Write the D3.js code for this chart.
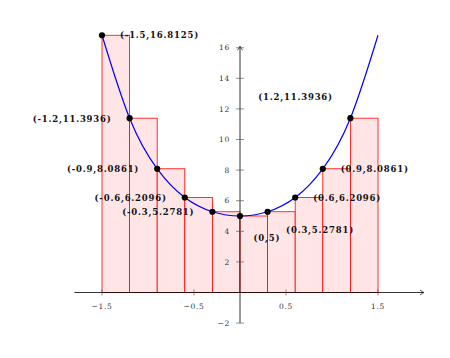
<!DOCTYPE html>
<html><head><meta charset="utf-8">
<script src="https://cdn.jsdelivr.net/npm/d3@7"></script>
<style>body{margin:0;background:#fff}</style>
</head><body>
<svg id="c" width="450" height="358"></svg>
<script>
// sample points (left endpoints of the Riemann rectangles)
const xs = [-1.5, -1.2, -0.9, -0.6, -0.3, 0, 0.3, 0.6, 0.9, 1.2];
const fx = [16.8125, 11.3936, 8.0861, 6.2096, 5.2781, 5, 5.2781, 6.2096, 8.0861, 11.3936];
const labels = ["(-1.5,16.8125)", "(-1.2,11.3936)", "(-0.9,8.0861)", "(-0.6,6.2096)", "(-0.3,5.2781)",
                "(0,5)", "(0.3,5.2781)", "(0.6,6.2096)", "(0.9,8.0861)", "(1.2,11.3936)"];
const placement = ["right", "left", "left", "left", "left", "below right", "below right 2", "right", "right", "above left"];
// curve points
const curveX = [-1.5, -1.2, -0.9, -0.6, -0.3, 0, 0.3, 0.6, 0.9, 1.2, 1.5];
const curveY = [16.8125, 11.3936, 8.0861, 6.2096, 5.2781, 5, 5.2781, 6.2096, 8.0861, 11.3936, 16.8125];
const width = 0.3;
const xTicks = [-1.5, -0.5, 0.5, 1.5];
const xTickLabels = ["\u22121.5", "\u22120.5", "0.5", "1.5"];
const yTicks = [-2, 2, 4, 6, 8, 10, 12, 14, 16];
const yTickLabels = ["\u22122", "2", "4", "6", "8", "10", "12", "14", "16"];

const svg = d3.select("#c");
const x = d3.scaleLinear().domain([-1.5, 1.5]).range([102, 378]);
const y = d3.scaleLinear().domain([0, 16]).range([292.5, 47.7]);

// rectangles
svg.append("g").selectAll("rect").data(xs).join("rect")
  .attr("x", d => x(d)).attr("width", d => x(d + width) - x(d))
  .attr("y", (d, i) => y(fx[i])).attr("height", (d, i) => y(0) - y(fx[i]))
  .attr("fill", "#ffe5e5").attr("stroke", "#ff0000").attr("stroke-width", 0.8);

// axes
const ax = svg.append("g").attr("stroke", "#000").attr("stroke-width", 0.8);
ax.append("line").attr("x1", x(-1.8)).attr("x2", x(2.0) - 1).attr("y1", y(0)).attr("y2", y(0));
ax.append("line").attr("x1", x(0)).attr("x2", x(0)).attr("y1", y(-2)).attr("y2", y(16.1) + 1);
// arrow heads
ax.append("path").attr("fill", "none").attr("stroke-width", 0.7)
  .attr("d", `M${x(2.0) - 4},${y(0) - 2.5} Q${x(2.0) - 1.5},${y(0) - 0.5} ${x(2.0)},${y(0)} Q${x(2.0) - 1.5},${y(0) + 0.5} ${x(2.0) - 4},${y(0) + 2.5}`);
ax.append("path").attr("fill", "none").attr("stroke-width", 0.7)
  .attr("d", `M${x(0) - 2.5},${y(16.1) + 4} Q${x(0) - 0.5},${y(16.1) + 1.5} ${x(0)},${y(16.1)} Q${x(0) + 0.5},${y(16.1) + 1.5} ${x(0) + 2.5},${y(16.1) + 4}`);

// ticks
const tickFont = "DejaVu Serif";
const gx = svg.append("g");
gx.selectAll("line").data(xTicks).join("line")
  .attr("x1", d => x(d)).attr("x2", d => x(d)).attr("y1", y(0) - 3).attr("y2", y(0) + 3)
  .attr("stroke", "#444").attr("stroke-width", 0.6);
gx.selectAll("text").data(xTicks).join("text")
  .attr("x", d => x(d)).attr("y", y(0) + 16).attr("text-anchor", "middle")
  .attr("font-family", tickFont).attr("font-size", 7.5).attr("letter-spacing", 0.7).attr("fill", "#333")
  .text((d, i) => xTickLabels[i]);
const gy = svg.append("g");
gy.selectAll("line").data(yTicks).join("line")
  .attr("x1", x(0) - 4).attr("x2", x(0) + 4).attr("y1", d => y(d)).attr("y2", d => y(d))
  .attr("stroke", "#444").attr("stroke-width", 0.6);
gy.selectAll("text").data(yTicks).join("text")
  .attr("x", x(0) - 10).attr("y", d => y(d) + 2.7).attr("text-anchor", "end")
  .attr("font-family", tickFont).attr("font-size", 7.5).attr("letter-spacing", 0.7).attr("fill", "#333")
  .text((d, i) => yTickLabels[i]);

// curve
const line = d3.line().x(d => x(d[0])).y(d => y(d[1])).curve(d3.curveNatural);
svg.append("path").datum(curveX.map((v, i) => [v, curveY[i]]))
  .attr("d", line).attr("fill", "none").attr("stroke", "#0000ff").attr("stroke-width", 1.2);

// points
svg.append("g").selectAll("circle").data(xs).join("circle")
  .attr("cx", d => x(d)).attr("cy", (d, i) => y(fx[i])).attr("r", 3.1).attr("fill", "#000");

// labels
const off = {
  "right": [18, 0, "start"],
  "left": [-18, 0.5, "end"],
  "below right": [13.5, 21.5, "start"],
  "below right 2": [18.5, 18.5, "start"],
  "above left": [-17.5, -21.5, "end"]
};
svg.append("g").selectAll("text").data(xs).join("text")
  .attr("x", (d, i) => x(d) + off[placement[i]][0])
  .attr("y", (d, i) => y(fx[i]) + off[placement[i]][1] + 3.2)
  .attr("text-anchor", (d, i) => off[placement[i]][2])
  .attr("font-family", "DejaVu Serif").attr("font-weight", "bold").attr("font-size", 8.5)
  .attr("letter-spacing", 0.8).attr("fill", "#111")
  .text((d, i) => labels[i]);
</script>
</body></html>
